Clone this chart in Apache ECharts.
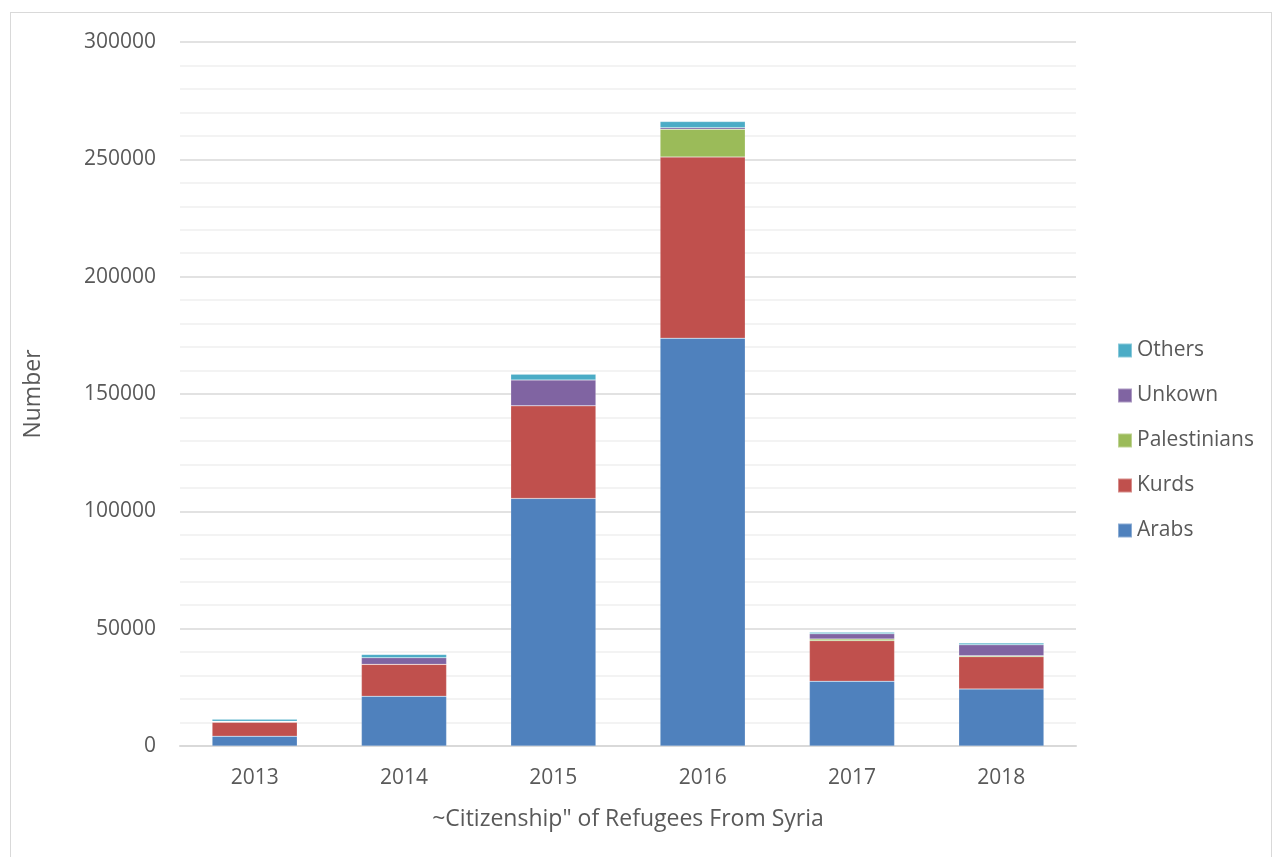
<!DOCTYPE html>
<html><head><meta charset="utf-8">
<script src="https://cdn.jsdelivr.net/npm/echarts@6/dist/echarts.min.js"></script>
<style>
html,body{margin:0;padding:0;background:#fff;}
#frame{position:absolute;left:10px;top:12px;width:1262px;height:860px;border:1px solid #d9d9d9;box-sizing:border-box;}
#c{position:absolute;left:0;top:0;width:1274px;height:857px;}
</style></head>
<body><div id="frame"></div><div id="c"></div>
<script>
const years = ['2013','2014','2015','2016','2017','2018'];
const arabs = [4200, 21200, 105500, 173800, 27600, 24300];
const kurds = [5900, 13600, 39500, 77200, 17300, 13750];
const palestinians = [200, 0, 0, 11800, 700, 400];
const unknown = [300, 2800, 11000, 700, 2200, 4650];
const others = [800, 1400, 2400, 2600, 700, 750];
const yTicks = [0, 50000, 100000, 150000, 200000, 250000, 300000];

const names = ['Arabs','Kurds','Palestinians','Unkown','Others'];
const colors = ['#4F81BD','#C0504D','#9BBB59','#8064A2','#4BACC6'];
const datas = [arabs, kurds, palestinians, unknown, others];
const font = '"Open Sans", sans-serif';

const chart = echarts.init(document.getElementById('c'));
chart.setOption({
  animation:false,
  textStyle:{fontFamily:font},
  grid:{left:180, right:198, top:42, bottom:111, containLabel:false},
  legend:{
    orient:'vertical', left:1112, top:335, itemGap:24, itemWidth:14, itemHeight:14,
    icon:'rect',
    data:['Others','Unkown','Palestinians','Kurds','Arabs'],
    textStyle:{fontSize:21, color:'#595959', fontFamily:font}
  },
  xAxis:{
    type:'category', data:years,
    name:'~Citizenship" of Refugees From Syria', nameLocation:'middle', nameGap:62,
    nameTextStyle:{fontSize:23, color:'#595959', fontFamily:font},
    axisLine:{lineStyle:{color:'#d9d9d9', width:2}},
    axisTick:{show:false},
    axisLabel:{fontSize:21, color:'#595959', margin:22, fontFamily:font}
  },
  yAxis:{
    type:'value', min:yTicks[0], max:yTicks[yTicks.length-1], interval:50000,
    name:'Number', nameLocation:'middle', nameGap:135, nameRotate:90,
    nameTextStyle:{fontSize:23, color:'#595959', fontFamily:font},
    axisLine:{show:false}, axisTick:{show:false},
    axisLabel:{fontSize:21, color:'#595959', margin:24, fontFamily:font, formatter:v=>String(v)},
    splitLine:{lineStyle:{color:'#d9d9d9', width:1.5}},
    minorTick:{show:false, splitNumber:5},
    minorSplitLine:{show:true, lineStyle:{color:'#efefef', width:1.5}}
  },
  series: names.map((n,i)=>({
    name:n, type:'bar', stack:'all', data:datas[i], barWidth:'57%',
    itemStyle:{color:colors[i], borderColor:'rgba(255,255,255,0.35)', borderWidth:0.5}
  }))
});
</script></body></html>
